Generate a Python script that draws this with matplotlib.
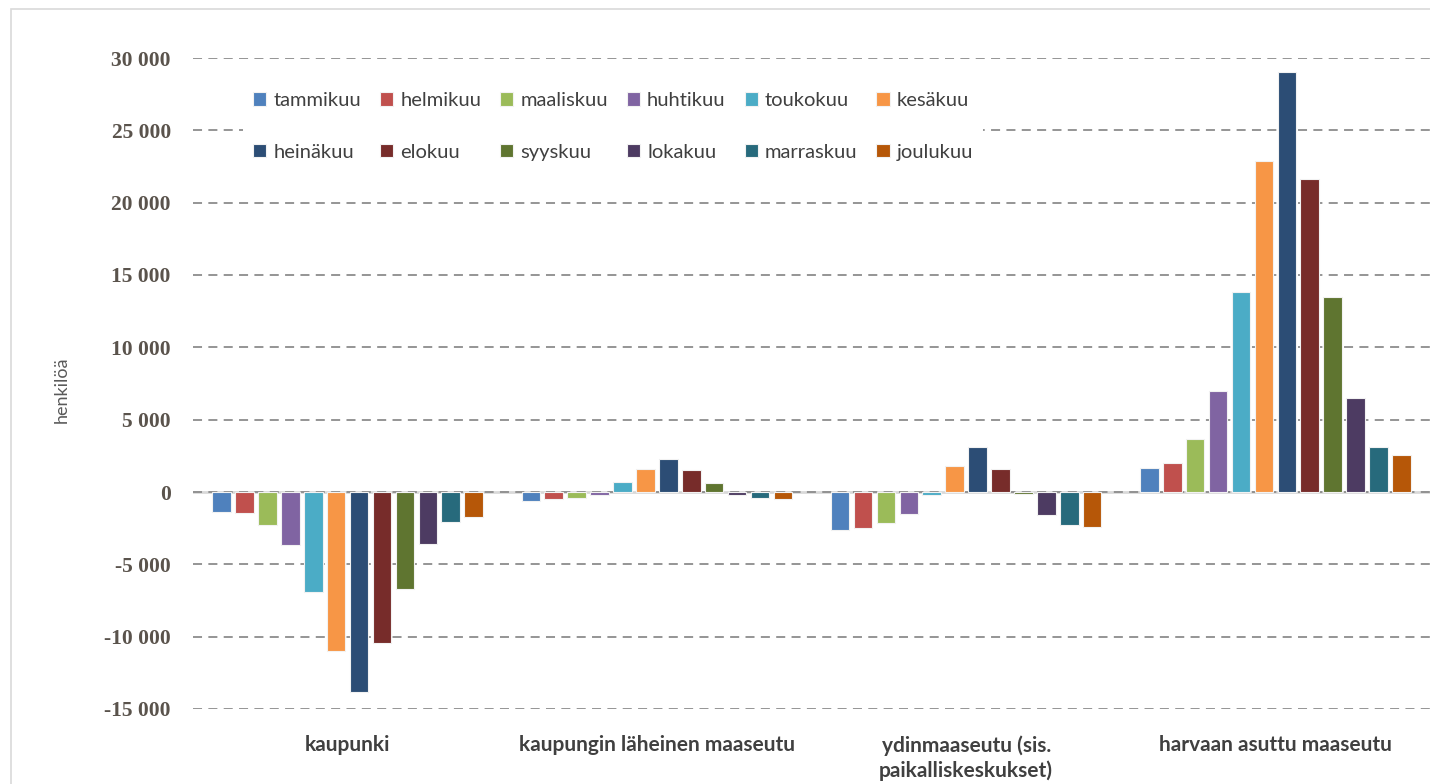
import numpy as np
import matplotlib
matplotlib.use("Agg")
import matplotlib.pyplot as plt
from matplotlib.patches import Rectangle
from matplotlib.ticker import FuncFormatter

# region groups on the x axis
regions = [
    "kaupunki",
    "kaupungin läheinen maaseutu",
    "ydinmaaseutu (sis.\npaikalliskeskukset)",
    "harvaan asuttu maaseutu",
]
months = ["tammikuu", "helmikuu", "maaliskuu", "huhtikuu", "toukokuu", "kesäkuu",
          "heinäkuu", "elokuu", "syyskuu", "lokakuu", "marraskuu", "joulukuu"]
colors = ["#4F81BD", "#C0504D", "#9BBB59", "#8064A2", "#4BACC6", "#F79646",
          "#2C4D75", "#772C2A", "#5F7530", "#4D3B62", "#276A7C", "#B65708"]

# values per region, one per month (henkilöä)
kaupunki = [-1380, -1480, -2260, -3690, -6910, -10970, -13850, -10440, -6680, -3600, -2050, -1710]
lahimaaseutu = [-600, -500, -390, -180, 710, 1590, 2260, 1500, 600, -180, -390, -500]
ydinmaaseutu = [-2600, -2510, -2170, -1500, -180, 1800, 3130, 1570, -150, -1610, -2300, -2400]
harvaan = [1680, 2000, 3660, 6980, 13820, 22880, 29050, 21660, 13480, 6520, 3110, 2560]

data = np.array([kaupunki, lahimaaseutu, ydinmaaseutu, harvaan])

fig = plt.figure(figsize=(14.3, 7.84), dpi=100)
ax = fig.add_axes([193 / 1430, 1 - 709 / 784, 1 - 193 / 1430, (709 - 58) / 784])

x = np.arange(len(regions))
step = 0.0741
width = 0.06
handles = []
for i, m in enumerate(months):
    h = ax.bar(x + (i - 5.5) * step, data[:, i], width, color=colors[i],
               edgecolor="#f2f2f2", linewidth=0.8, label=m, zorder=3)
    handles.append(h)

ax.set_xlim(-0.5, 3.5)
ax.set_ylim(-15000, 30000)
ax.set_yticks(np.arange(-15000, 30001, 5000))
ax.yaxis.set_major_formatter(FuncFormatter(lambda v, p: f"{int(v):,}".replace(",", " ")))
ax.yaxis.grid(True, linestyle=(0, (5, 3.5)), color="#8c8c8c", linewidth=1.3, zorder=0)
ax.axhline(0, color="#d9d9d9", linewidth=2, zorder=1)
for s in ax.spines.values():
    s.set_visible(False)

ax.tick_params(axis="y", length=0, pad=16, labelcolor="#5a534c")
for t in ax.get_yticklabels():
    t.set_fontfamily("Liberation Serif")
    t.set_fontweight("bold")
    t.set_fontsize(15.5)

ax.set_xticks(x)
ax.set_xticklabels(regions, fontfamily="Lato", fontweight="bold", fontsize=15,
                   color="#404040", linespacing=1.25)
ax.tick_params(axis="x", length=0, pad=19)

ax.set_ylabel("henkilöä", fontfamily="Lato", fontsize=13, color="#595959")
ax.yaxis.set_label_coords(-0.1, 0.49)

# legend, row-major order over 6 columns
order = []
for c in range(6):
    order += [c, c + 6]
leg = ax.legend([handles[k] for k in order], [months[k] for k in order], ncol=6,
                loc="upper left", bbox_to_anchor=(233 / 1430, 1 - 72 / 784),
                bbox_transform=fig.transFigure, frameon=True, fancybox=False,
                edgecolor="none", facecolor="white", framealpha=1,
                prop={"family": "Lato", "size": 14.5}, handlelength=0.65,
                handleheight=0.65, handletextpad=0.35, columnspacing=0.95,
                labelspacing=1.72, borderpad=0.5)
for t in leg.get_texts():
    t.set_color("#404040")
leg.set_zorder(5)

fig.add_artist(Rectangle((10.5 / 1430, -0.1), 2, 1 - 9 / 784 + 0.1, transform=fig.transFigure,
                         fill=False, edgecolor="#d9d9d9", linewidth=1.2))

fig.savefig("out.png", dpi=100, facecolor="white")
